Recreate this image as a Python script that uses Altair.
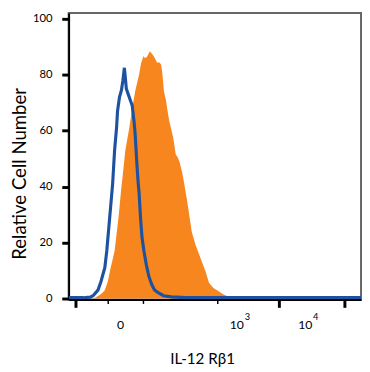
import altair as alt
import pandas as pd

# Display channel (logicle-like display units, 0..299) and relative cell counts
blue_x = [0, 15, 22, 25, 30, 33, 37, 39, 42, 45, 47, 49, 50, 52, 54, 55.5, 57, 58, 59, 61, 63, 65, 67, 68,
          70, 71, 72, 73.5, 75, 77, 79.5, 82, 85, 88, 92, 97, 105, 120, 299]
blue_y = [0.3, 0.3, 0.5, 1, 3, 6, 11, 17, 29, 41, 53, 61, 67, 72, 74.5, 78, 82.5, 79, 75, 73, 71, 69, 63, 59,
          47, 42, 38, 29, 22, 17, 12, 8, 5, 3, 2, 1, 0.6, 0.3, 0.3]

orange_x = [0, 25, 27, 33, 37, 40, 43, 47, 51, 54, 55, 58, 62, 65, 68, 72, 74, 76.5, 78, 80, 83, 86, 88.5,
            90.5, 92.5, 94.5, 95.5, 96.5, 97.5, 99.5, 101, 103, 105, 107, 109.5, 111.5, 113.5, 116, 118,
            121, 123.5, 126, 130, 135, 140, 143.5, 148, 153, 158, 163, 168, 299]
orange_y = [0, 0, 0.3, 1.5, 3, 6, 11, 17, 29, 40, 43, 53, 61, 68, 74, 80, 84, 86.6, 86, 86.4, 88.4, 87.2, 85.7,
            84.3, 84.5, 83.7, 81.5, 78, 74, 71, 67.4, 63.3, 60.4, 57.4, 51.6, 50.5, 48.7, 45.2, 41.5,
            35.3, 29.5, 23.7, 19, 14.3, 9.7, 5.6, 3.8, 2.7, 1.5, 0.7, 0, 0]

x_major_ticks = [7, 45, 48, 51, 54, 91, 145, 167, 215, 237, 282]
x_minor_ticks = [12, 16, 20, 24, 28, 32, 36, 40, 61, 66, 71, 76, 81, 86, 112, 125, 135, 152, 157, 160, 163,
                 188, 202, 210, 222, 227, 230, 233, 258, 272, 288, 293, 297]
x_label_pos = [48, 167, 237]
x_label_base = ["0", "10", "10"]
x_label_exp = ["", "3", "4"]

y_ticks = [0, 5, 10, 15, 20, 25, 30, 35, 40, 45, 50, 55, 60, 65, 70, 75, 80, 85, 90, 95, 100]
y_label_every = 20

blue = pd.DataFrame({"x": blue_x, "y": blue_y})
orange = pd.DataFrame({"x": orange_x, "y": orange_y})
labels = pd.DataFrame({"x": x_label_pos, "base": x_label_base, "exp": x_label_exp})

major_test = "indexof([" + ",".join(str(v) for v in x_major_ticks) + "], datum.value) >= 0"

xscale = alt.Scale(domain=[0, 299], nice=False, zero=False)
yscale = alt.Scale(domain=[-0.35, 102.1], nice=False, zero=False)

FONT = "Lato"
PLOT_H = 293

xaxis = alt.Axis(
    values=sorted(x_major_ticks + x_minor_ticks),
    labels=False,
    tickSize={"condition": {"test": major_test, "value": 8}, "value": 4},
    tickWidth={"condition": {"test": major_test, "value": 3}, "value": 1.5},
    tickColor="black",
    domainColor="black",
    domainWidth=2,
    grid=False,
    title="IL-12 Rβ1",
    titleX=136.5,
    titleY=65,
    titleAlign="center",
    titleBaseline="alphabetic",
    titleFont=FONT,
    titleFontSize=15.5,
    titleFontWeight="normal",
    titleColor="black",
)

yaxis = alt.Axis(
    values=y_ticks,
    labelExpr=f"datum.value % {y_label_every} == 0 ? datum.label : ''",
    tickSize={"condition": {"test": f"datum.value % {y_label_every} == 0", "value": 7}, "value": 3},
    tickWidth={"condition": {"test": f"datum.value % {y_label_every} == 0", "value": 3}, "value": 1.5},
    tickColor="black",
    domainColor="black",
    domainWidth=2,
    grid=False,
    labelPadding=10,
    labelFontSize=11.5,
    labelColor="black",
    labelFont=FONT,
    labelOverlap=False,
    labelFlush=False,
    title="Relative Cell Number",
    titleX=-44,
    titleY=164,
    titleAngle=270,
    titleAlign="center",
    titleBaseline="alphabetic",
    titleFont=FONT,
    titleFontSize=19,
    titleFontWeight="normal",
    titleColor="black",
)

area = alt.Chart(orange).mark_area(color="#F7861F", opacity=1, interpolate="linear", clip=True).encode(
    x=alt.X("x:Q", scale=xscale, axis=xaxis),
    y=alt.Y("y:Q", scale=yscale, axis=yaxis),
)

line = alt.Chart(blue).mark_line(color="#1D52A0", strokeWidth=3.2, interpolate="linear", clip=True).encode(
    x=alt.X("x:Q", scale=xscale),
    y=alt.Y("y:Q", scale=yscale),
)

base_txt = alt.Chart(labels).mark_text(
    font=FONT, fontSize=12.5, color="black", align="center", baseline="alphabetic", dx=5
).encode(
    x=alt.X("x:Q", scale=xscale),
    y=alt.value(PLOT_H + 30),
    text="base:N",
)

exp_txt = alt.Chart(labels).mark_text(
    font=FONT, fontSize=9.5, color="black", align="left", baseline="alphabetic", dx=13
).encode(
    x=alt.X("x:Q", scale=xscale),
    y=alt.value(PLOT_H + 21),
    text="exp:N",
)

chart = alt.layer(area, line, base_txt, exp_txt).properties(
    width=299,
    height=PLOT_H,
    padding={"left": 62, "top": 1, "right": 1, "bottom": 68},
    autosize=alt.AutoSizeParams(type="none"),
    background="white",
).configure_view(stroke="#666666", strokeWidth=2)

chart.save("out.html", embed_options={"renderer": "svg", "actions": False})
